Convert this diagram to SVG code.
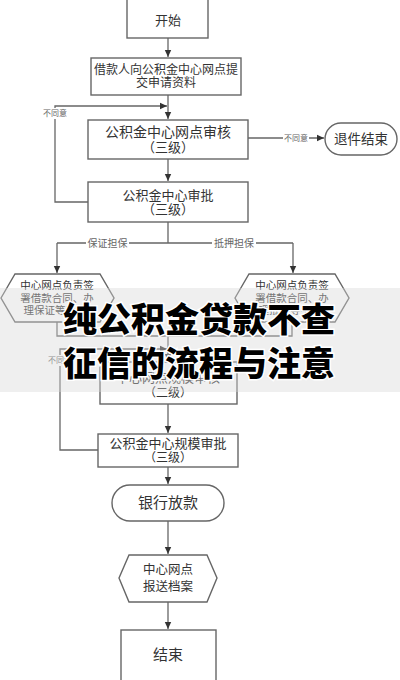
<svg xmlns="http://www.w3.org/2000/svg" width="400" height="680" viewBox="0 0 400 680">
<defs>
<marker id="arr" markerWidth="8" markerHeight="8" refX="7" refY="4" orient="auto" markerUnits="userSpaceOnUse">
<path d="M0,0.8 L7,4 L0,7.2 Z" fill="#333"/>
</marker>
<style>
.box{fill:#fff;stroke:#666;stroke-width:1.4}
.t{font-family:"Liberation Serif","Noto Sans CJK SC",serif;fill:#333;text-anchor:middle;dominant-baseline:central}
.ln{fill:none;stroke:#666;stroke-width:1.3}
.lbl{font-family:"Liberation Serif","Noto Sans CJK SC",serif;fill:#666;font-size:8px;text-anchor:middle;dominant-baseline:central}
.lbg{fill:#fff}
.title{font-family:"Noto Sans CJK SC",sans-serif;font-weight:900;font-size:34px;fill:#000;stroke:#fff;stroke-width:3;paint-order:stroke;text-anchor:middle}
</style>
</defs>
<rect width="400" height="680" fill="#fff"/>

<g id="connectors">
<path class="ln" d="M168,38 V57" marker-end="url(#arr)"/>
<path class="ln" d="M168,95 V119" marker-end="url(#arr)"/>
<path class="ln" d="M88,202 H55 V106 H167" marker-end="url(#arr)"/>
<path class="ln" d="M248,138 H324" marker-end="url(#arr)"/>
<path class="ln" d="M168,159 V181" marker-end="url(#arr)"/>
<path class="ln" d="M168,222 V243 M57,243 H293"/>
<path class="ln" d="M57,243 V273" marker-end="url(#arr)"/>
<path class="ln" d="M293,243 V273" marker-end="url(#arr)"/>
<path class="ln" d="M57,322 V336 H292 V322 M168,336 V361"/>
<path class="ln" d="M168,350 V361" marker-end="url(#arr)"/>
<path class="ln" d="M98,450 H60 V349 H167" marker-end="url(#arr)"/>
<path class="ln" d="M168,404 V433" marker-end="url(#arr)"/>
<path class="ln" d="M168,467 V484" marker-end="url(#arr)"/>
<path class="ln" d="M168,521 V554" marker-end="url(#arr)"/>
<path class="ln" d="M168,602 V629" marker-end="url(#arr)"/>
<rect class="lbg" x="41" y="108" width="28" height="11"/>
<text class="lbl" x="55" y="113">不同意</text>
<rect class="lbg" x="283" y="133" width="26" height="10"/>
<text class="lbl" x="296" y="138">不同意</text>
<rect class="lbg" x="86" y="237" width="43" height="12"/>
<text class="lbl" x="107.5" y="243" style="font-size:10px">保证担保</text>
<rect class="lbg" x="212" y="237" width="44" height="12"/>
<text class="lbl" x="234" y="243" style="font-size:10px">抵押担保</text>
<rect class="lbg" x="46" y="355" width="28" height="11"/>
<text class="lbl" x="60" y="360">不同意</text>
</g>

<g id="start"><rect class="box" x="127" y="-2" width="81" height="40"/><text class="t" x="168" y="20" font-size="13">开始</text></g>
<g id="submit"><rect class="box" x="91" y="58" width="150" height="37"/><text class="t" x="166" y="70" font-size="12">借款人向公积金中心网点提</text><text class="t" x="166" y="83" font-size="12">交申请资料</text></g>
<g id="review3"><rect class="box" x="88" y="120" width="160" height="39"/><text class="t" x="168" y="132" font-size="14">公积金中心网点审核</text><text class="t" x="168" y="147" font-size="13">（三级）</text></g>
<g id="reject"><rect class="box" x="325" y="123" width="72" height="32" rx="16"/><text class="t" x="361" y="139" font-size="13.5">退件结束</text></g>
<g id="approve3"><rect class="box" x="88" y="182" width="160" height="40"/><text class="t" x="168" y="195" font-size="13">公积金中心审批</text><text class="t" x="168" y="209" font-size="13">（三级）</text></g>
<g id="sign-guarantee"><polygon class="box" points="1,298 15,274 100,274 114,298 100,322 15,322"/><text class="t" x="57" y="285" font-size="10.5">中心网点负责签</text><text class="t" x="57" y="298" font-size="10.5">署借款合同、办</text><text class="t" x="55" y="310" font-size="10.5">理保证等手续</text></g>
<g id="sign-mortgage"><polygon class="box" points="235,298 249,274 335,274 349,298 335,322 249,322"/><text class="t" x="292" y="285" font-size="10.5">中心网点负责签</text><text class="t" x="292" y="298" font-size="10.5">署借款合同、办</text><text class="t" x="290" y="310" font-size="10.5">理抵押等手续</text></g>
<g id="review2"><rect class="box" x="100" y="362" width="137" height="42"/><text class="t" x="168" y="377" font-size="13">中心网点规模审核</text><text class="t" x="168" y="393" font-size="12">（二级）</text></g>
<g id="approve-scale"><rect class="box" x="98" y="434" width="140" height="33"/><text class="t" x="168" y="443" font-size="13">公积金中心规模审批</text><text class="t" x="168" y="458" font-size="12">（三级）</text></g>
<g id="bank"><rect class="box" x="112" y="485" width="112" height="36" rx="18"/><text class="t" x="168" y="503" font-size="15">银行放款</text></g>
<g id="archive"><polygon class="box" points="119,578 129,555 207,555 217,578 207,602 129,602"/><text class="t" x="168" y="570" font-size="12.5">中心网点</text><text class="t" x="168" y="587" font-size="12.5">报送档案</text></g>
<g id="end"><rect class="box" x="121" y="630" width="95" height="56"/><text class="t" x="168" y="655" font-size="15">结束</text></g>

<g id="overlay">
<rect x="0" y="288" width="400" height="104" fill="#d8d8d8" opacity="0.4"/>
<text class="title" x="199" y="332">纯公积金贷款不查</text>
<text class="title" x="199" y="376">征信的流程与注意</text>
</g>
</svg>
